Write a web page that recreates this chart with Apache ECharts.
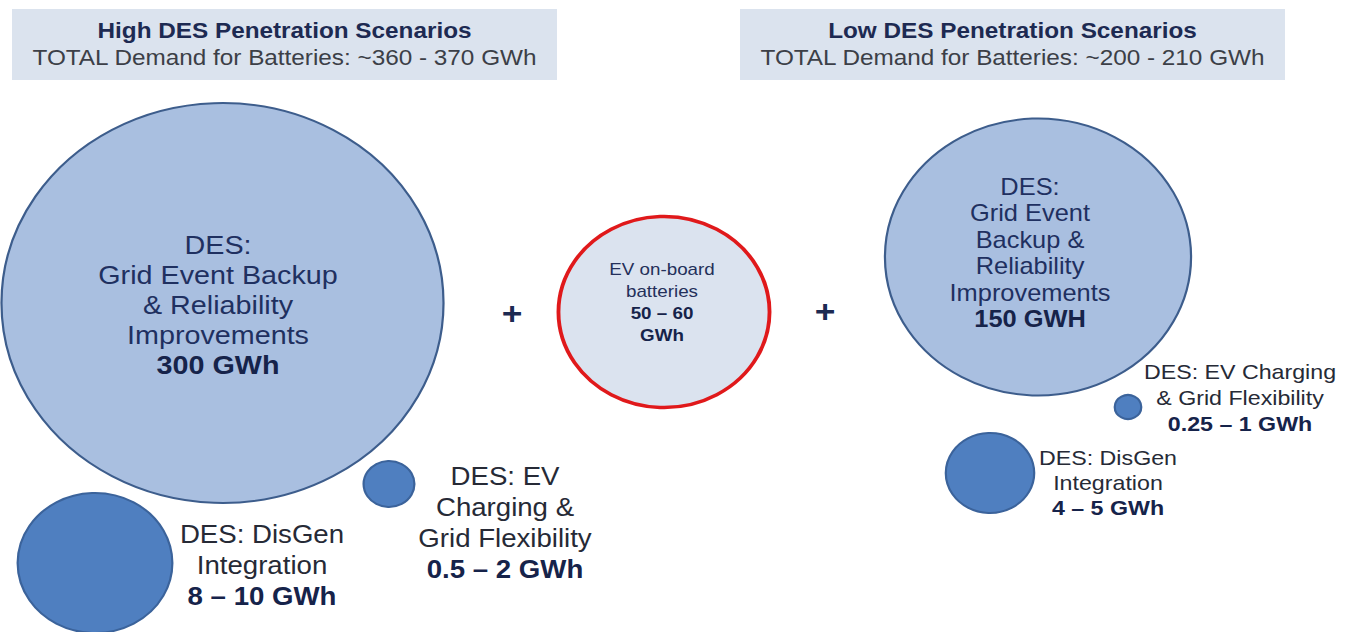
<!DOCTYPE html>
<html>
<head>
<meta charset="utf-8">
<script src="https://cdn.jsdelivr.net/npm/echarts@6/dist/echarts.min.js"></script>
<style>
  html, body { margin: 0; padding: 0; background: #ffffff; overflow: hidden; }
  /* The diagram is laid out on a narrower canvas and widened horizontally,
     giving the slightly wide lettering and oval bubbles of the poster. */
  #chart { width: 1218px; height: 632px; transform: scaleX(1.10509); transform-origin: 0 0; }
</style>
</head>
<body>
<div id="chart"></div>
<script>
const PAGE_W = 1346, CHART_W = 1218, PAGE_H = 632;
const STRETCH = PAGE_W / CHART_W;
const FONT = '"Liberation Sans", Arial, sans-serif';

// ---- Scenario headers ----
const scenarios = ['High DES Penetration Scenarios', 'Low DES Penetration Scenarios'];
const totalLow = [360, 200];
const totalHigh = [370, 210];

// ---- Battery demand segments (GWh) ----
const segments = [
  'DES:\nGrid Event Backup\n& Reliability\nImprovements',
  'DES: DisGen\nIntegration',
  'DES: EV\nCharging &\nGrid Flexibility',
  'EV on-board\nbatteries',
  'DES:\nGrid Event\nBackup &\nReliability\nImprovements',
  'DES: EV Charging\n& Grid Flexibility',
  'DES: DisGen\nIntegration'
];
const gwhLow  = [300, 8, 0.5, 50, 150, 0.25, 4];
const gwhHigh = [300, 10, 2, 60, 150, 1, 5];
const units   = ['GWh', 'GWh', 'GWh', 'GWh', 'GWH', 'GWh', 'GWh'];

// ---- Layout (page pixels) ----
const centerX  = [222.5, 95, 389, 664, 1038, 1128, 990];
const centerY  = [303, 563, 484, 312, 257, 407, 473];
const diameter = [400, 140, 46, 191, 277, 24, 80];
const kind     = ['major', 'minor', 'minor', 'ev', 'major', 'minor', 'minor'];
const labelDX  = [-4.5, 167, 116, -2, -8, 112, 118];
const labelDY  = [2, 2.5, 39, -9.5, -4, -9, 9.5];
const labelFont = [26, 25, 25, 17, 23, 21, 21];
const labelLine = [30, 31, 31, 22, 26.5, 26, 25];
const valueOnTwoLines = [false, false, false, true, false, false, false];

const boxLeft = [12, 740];
const boxWidth = 545;
const plusX = [512, 825];
const plusY = [313, 311];

// ---- Styles ----
const markStyle = {
  major: { color: '#a9bfe0', borderColor: '#3d5d8c', borderWidth: 2, opacity: 1 },
  minor: { color: '#4f7fc0', borderColor: '#3b639b', borderWidth: 2, opacity: 1 },
  ev:    { color: '#dbe3ef', borderColor: '#e0191b', borderWidth: 3.5, opacity: 1 }
};
const nameColor = { major: '#1f3060', minor: '#262a36', ev: '#24305a' };
const valueColor = '#16234a';

function valueText(i) {
  const lo = gwhLow[i], hi = gwhHigh[i];
  if (lo === hi) return [lo + ' ' + units[i]];
  const range = lo + ' \u2013 ' + hi;
  return valueOnTwoLines[i] ? [range, units[i]] : [range + ' ' + units[i]];
}

const points = segments.map((name, i) => {
  const k = kind[i];
  const lines = name.split('\n').map(l => '{n|' + l + '}')
    .concat(valueText(i).map(l => '{v|' + l + '}'));
  return {
    name: name,
    value: [centerX[i], centerY[i], gwhLow[i], gwhHigh[i]],
    symbolSize: diameter[i],
    itemStyle: markStyle[k],
    label: {
      show: true,
      position: 'inside',
      offset: [labelDX[i] / STRETCH, labelDY[i]],
      formatter: lines.join('\n'),
      rich: {
        n: { fontFamily: FONT, fontSize: labelFont[i], lineHeight: labelLine[i], color: nameColor[k], align: 'center' },
        v: { fontFamily: FONT, fontSize: labelFont[i], lineHeight: labelLine[i], color: valueColor, fontWeight: 'bold', align: 'center' }
      }
    }
  };
});

const headerGraphics = scenarios.map((title, i) => ({
  type: 'group',
  x: boxLeft[i] / STRETCH,
  y: 9,
  children: [
    { type: 'rect', shape: { x: 0, y: 0, width: boxWidth / STRETCH, height: 71 },
      style: { fill: '#dbe3ee' } },
    { type: 'text', x: boxWidth / STRETCH / 2, y: 21,
      style: { text: title, fontFamily: FONT, fontSize: 22, fontWeight: 'bold',
               fill: '#1d2a52', align: 'center', verticalAlign: 'middle' } },
    { type: 'text', x: boxWidth / STRETCH / 2, y: 48,
      style: { text: 'TOTAL Demand for Batteries: ~' + totalLow[i] + ' - ' + totalHigh[i] + ' GWh',
               fontFamily: FONT, fontSize: 22, fill: '#3c3f47',
               align: 'center', verticalAlign: 'middle' } }
  ]
}));

const plusGraphics = plusX.map((x, i) => ({
  type: 'text', x: x / STRETCH, y: plusY[i],
  style: { text: '+', fontFamily: FONT, fontSize: 32, fontWeight: 'bold',
           fill: '#1d2a52', align: 'center', verticalAlign: 'middle' }
}));

const chart = echarts.init(document.getElementById('chart'), null, { renderer: 'svg' });
chart.setOption({
  animation: false,
  backgroundColor: '#ffffff',
  grid: { left: 0, right: 0, top: 0, bottom: 0 },
  xAxis: { type: 'value', min: 0, max: PAGE_W, show: false },
  yAxis: { type: 'value', min: 0, max: PAGE_H, inverse: true, show: false },
  graphic: headerGraphics.concat(plusGraphics),
  series: [{
    type: 'scatter',
    symbol: 'circle',
    silent: true,
    emphasis: { disabled: true },
    itemStyle: { opacity: 1 },
    data: points
  }]
});
</script>
</body>
</html>
